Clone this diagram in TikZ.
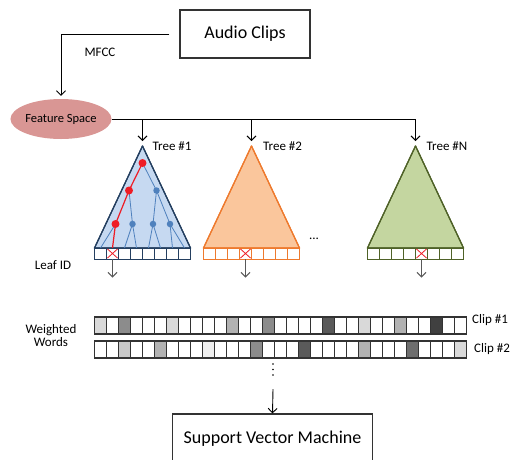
\documentclass[tikz,border=0pt]{standalone}
\usepackage{fontspec}
\setmainfont{Carlito}
\usetikzlibrary{shapes.geometric,arrows.meta}

\definecolor{treeAfill}{HTML}{C6D9F1}
\definecolor{treeAline}{HTML}{243F60}
\definecolor{branch}{HTML}{4F81BD}
\definecolor{pathred}{HTML}{EE1C25}
\definecolor{treeBfill}{HTML}{FAC69C}
\definecolor{treeBline}{HTML}{EE7A2E}
\definecolor{treeCfill}{HTML}{C4D6A0}
\definecolor{treeCline}{HTML}{4F6228}
\definecolor{featfill}{HTML}{D99694}
\definecolor{wL}{HTML}{D9D9D9}
\definecolor{wVL}{HTML}{EFEFEF}
\definecolor{wLM}{HTML}{C8C8C8}
\definecolor{wM}{HTML}{B2B2B2}
\definecolor{wG}{HTML}{8C8C8C}
\definecolor{wDG}{HTML}{6E6E6E}
\definecolor{wD}{HTML}{5A5A5A}
\definecolor{wK}{HTML}{404040}

\begin{document}
\begin{tikzpicture}[x=1pt,y=-1pt,
  every node/.style={font=\fontsize{13}{15}\selectfont, inner sep=0pt},
  tip/.style={-{Straight Barb[length=4.5pt,width=9pt]}},
  conn/.style={draw=black, line width=0.9pt, tip},
  leafarrow/.style={draw=black!65, line width=1pt, tip},
  bigbox/.style={draw=black!80, line width=1.2pt, font=\fontsize{18}{21}\selectfont},
  treeA/.style={fill=treeAfill, draw=treeAline, line width=1.2pt, line join=round},
  treeB/.style={fill=treeBfill, draw=treeBline, line width=1.2pt, line join=round},
  treeC/.style={fill=treeCfill, draw=treeCline, line width=1.2pt, line join=round},
  edgeblue/.style={draw=branch, line width=0.8pt},
  edgered/.style={draw=pathred, line width=1.2pt},
  bluedot/.style={circle, fill=branch, minimum size=6.5pt},
  reddot/.style={circle, fill=pathred, minimum size=8pt},
  leafcell/.style={fill=white, line width=1pt},
  hit/.style={draw=pathred, line width=0.8pt},
  wordcell/.style={draw=black!80, line width=1.1pt}]

\useasboundingbox (0,0) rectangle (511,459);
\clip (0,0) rectangle (511,459);

% input and feature extraction
\node[bigbox, minimum width=130pt, minimum height=48pt] (audio) at (245,34) {Audio Clips};
\node[ellipse, fill=featfill, minimum width=100pt, minimum height=40pt,
      font=\fontsize{12.5}{14}\selectfont] (feat) at (61,119) {Feature Space};
\draw[conn, shorten <=10pt, shorten >=3pt] (audio.west) -| (feat.north);
\node (mfcc) at (100,52) {MFCC};

% tree apexes and the bus feeding them
\coordinate (t1) at (142.5,146);
\coordinate (t2) at (251.5,146);
\coordinate (t3) at (415.5,146);
\draw[line width=0.9pt] (feat.east) -- (t3 |- feat.east);
\foreach \t in {t1,t2,t3}
  \draw[conn, shorten >=5pt] (\t |- feat.east) -- (\t);

% the three trees
\fill[treeA] (t1) -- (94.5,248) -- (190.5,248) -- cycle;
\fill[treeB] (t2) -- (203.5,248) -- (299.5,248) -- cycle;
\fill[treeC] (t3) -- (367.5,248) -- (463.5,248) -- cycle;
\draw[treeA, fill=none] (t1) -- (94.5,248) -- (190.5,248) -- cycle;
\draw[treeB, fill=none] (t2) -- (203.5,248) -- (299.5,248) -- cycle;
\draw[treeC, fill=none] (t3) -- (367.5,248) -- (463.5,248) -- cycle;

\node[anchor=west] (lab1) at (152.5,146) {Tree \#1};
\node[anchor=west] (lab2) at (263,146) {Tree \#2};
\node[anchor=west] (lab3) at (426.5,146) {Tree \#N};
\node (more) at (314,239) {...};

% inner structure of the first tree
\coordinate (r0) at (142.5,163);
\coordinate (r1) at (129,190.5);
\coordinate (b1) at (156.5,190.5);
\coordinate (r2) at (115.5,224);
\coordinate (b2) at (132.5,224);
\coordinate (b3) at (153,224);
\coordinate (b4) at (170,224);
\foreach \k in {0,...,7}
  \coordinate (lf\k) at (100.5+12*\k,248);
\draw[edgeblue] (r0) -- (b1) (r1) -- (b2) (b1) -- (b3) (b1) -- (b4)
  (r2) -- (lf0) (b2) -- (lf2) (b2) -- (lf3) (b3) -- (lf4) (b3) -- (lf5)
  (b4) -- (lf6) (b4) -- (lf7);
\draw[edgered] (r0) -- (r1) -- (r2) -- (lf1);
\foreach \n in {b1,b2,b3,b4} \node[bluedot] at (\n) {};
\foreach \n in {r0,r1,r2} \node[reddot] at (\n) {};

% leaf strips with the reached leaf crossed out
\foreach \x/\c/\h in {94.5/treeAline/1, 203.5/treeBline/3, 367.5/treeCline/4} {
  \foreach \k in {0,...,7}
    \draw[leafcell, draw=\c] (\x+12*\k,248) rectangle ++(12,11);
  \draw[hit] (\x+12*\h+1,249) -- ++(10,9) (\x+12*\h+11,249) -- ++(-10,9);
}
\coordinate (o1) at (112.5,259);
\coordinate (o2) at (245.5,259);
\coordinate (o3) at (421.5,259);
\foreach \o in {o1,o2,o3}
  \draw[leafarrow] (\o) -- ++(0,18.5);

\node (leafid) at (53,265) {Leaf ID};

% weighted word histograms
\node[align=center, font=\fontsize{13}{13}\selectfont] (ww) at (51,335.5) {Weighted\\Words};
\foreach \col [count=\k from 0] in {wL,white,wG,white,white,white,wL,white,white,white,
    white,wM,white,white,wG,white,white,white,white,wD,white,white,wL,white,white,wM,
    white,white,wK,white,white}
  \draw[wordcell, fill=\col] (94.5+12*\k,317) rectangle ++(12,17);
\foreach \col [count=\k from 0] in {white,white,wLM,white,white,wM,white,white,white,wVL,
    white,white,white,wG,white,white,white,wD,white,white,white,white,wM,white,white,
    white,wDG,white,white,white,wL}
  \draw[wordcell, fill=\col] (94.5+12*\k,341) rectangle ++(12,17);
\node[anchor=base west] (clip1) at (472,323.5) {Clip \#1};
\node[anchor=base west] (clip2) at (474,352) {Clip \#2};

% more clips follow
\foreach \y in {364,369.5,375} \fill (273,\y) circle (0.9pt);
\coordinate (vdots) at (273,389);

% classifier
\node[bigbox, minimum width=200pt, minimum height=50pt] (svm) at (272.5,439) {Support Vector Machine};
\draw[conn] (vdots) -- (svm.north);
\end{tikzpicture}
\end{document}
